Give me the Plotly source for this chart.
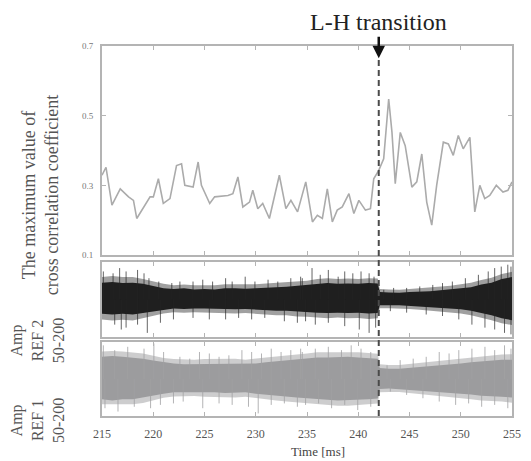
import plotly.graph_objects as go

# ---------------- data ----------------
# top panel: maximum value of cross correlation coefficient
cc_time = [215.0,215.39,215.97,216.78,217.59,218.07,218.39,219.2,219.69,220.01,220.5,220.98,221.63,222.27,222.76,
           223.08,223.89,224.38,224.7,225.51,225.99,227.29,227.77,228.26,228.74,229.39,229.71,230.2,230.68,231.33,
           232.3,232.94,233.43,234.08,234.88,235.53,236.01,236.5,236.98,237.47,237.95,238.44,239.09,239.57,240.06,
           240.7,241.19,241.51,242.0,242.48,242.97,243.29,243.61,244.1,244.58,245.23,245.71,246.2,246.68,247.17,
           247.65,248.3,248.79,249.27,249.76,250.24,250.89,251.37,251.86,252.34,252.83,253.47,254.12,254.6,255.0]
cc_value = [0.329,0.352,0.243,0.29,0.267,0.257,0.205,0.243,0.267,0.267,0.319,0.248,0.262,0.357,0.362,
            0.30,0.295,0.367,0.30,0.248,0.267,0.271,0.276,0.324,0.238,0.252,0.286,0.233,0.248,0.205,
            0.329,0.233,0.257,0.224,0.31,0.195,0.214,0.205,0.29,0.195,0.229,0.238,0.276,0.219,0.257,
            0.229,0.233,0.319,0.343,0.376,0.548,0.452,0.305,0.452,0.414,0.295,0.31,0.39,0.252,0.186,
            0.30,0.424,0.419,0.386,0.443,0.405,0.438,0.224,0.30,0.262,0.271,0.30,0.281,0.286,0.31]

# envelopes of the dense band-passed (50-200) signals
env_time = [215,216,217,218,219,220,221,222,223,224,225,226,227,228,229,230,231,232,233,234,235,236,237,238,
            239,240,241,241.9,242.1,243,244,245,246,247,248,249,250,251,252,253,254,255]

ref2_core_hi = [0.45,0.47,0.44,0.45,0.42,0.36,0.3,0.28,0.3,0.27,0.28,0.27,0.3,0.3,0.29,0.3,0.32,0.33,0.34,0.36,
                0.38,0.42,0.44,0.42,0.43,0.42,0.44,0.43,0.2,0.19,0.18,0.2,0.21,0.22,0.25,0.28,0.3,0.33,0.4,0.45,0.55,0.6]
ref2_core_lo = [-0.38,-0.4,-0.38,-0.4,-0.36,-0.32,-0.27,-0.24,-0.25,-0.24,-0.24,-0.23,-0.25,-0.26,-0.25,-0.27,
                -0.28,-0.3,-0.3,-0.32,-0.33,-0.35,-0.36,-0.35,-0.36,-0.35,-0.37,-0.36,-0.15,-0.15,-0.15,-0.17,
                -0.18,-0.2,-0.22,-0.24,-0.26,-0.3,-0.35,-0.42,-0.5,-0.55]
ref2_outer_hi = [0.6,0.63,0.6,0.6,0.55,0.48,0.42,0.38,0.4,0.38,0.38,0.38,0.41,0.41,0.4,0.41,0.43,0.45,0.46,0.48,
                 0.5,0.55,0.57,0.55,0.56,0.55,0.57,0.56,0.28,0.27,0.26,0.28,0.3,0.31,0.34,0.37,0.41,0.45,0.52,0.58,0.68,0.74]
ref2_outer_lo = [-0.53,-0.56,-0.54,-0.56,-0.5,-0.44,-0.37,-0.34,-0.35,-0.34,-0.34,-0.34,-0.36,-0.37,-0.36,-0.38,
                 -0.4,-0.42,-0.42,-0.45,-0.46,-0.49,-0.5,-0.48,-0.5,-0.49,-0.52,-0.5,-0.23,-0.23,-0.23,-0.25,
                 -0.27,-0.29,-0.32,-0.34,-0.37,-0.42,-0.48,-0.55,-0.63,-0.68]
ref2_up_t = [215.13,216.08,216.72,217.35,218.47,219.1,219.58,220.54,221.81,222.6,223.88,224.83,225.79,227.06,
             227.7,228.97,229.92,231.2,232.15,233.42,234.38,234.54,235.49,236.29,237.08,238.04,238.68,239.47,
             240.27,241.06,241.54,242.49,243.45,244.72,246.0,247.27,248.22,249.18,250.45,251.72,252.68,253.31,
             253.95,254.59,254.9]
ref2_up_a = [0.75,0.70,0.84,0.75,0.79,0.70,0.57,0.48,0.44,0.48,0.48,0.53,0.48,0.57,0.48,0.61,0.48,0.53,0.48,
             0.57,0.61,0.57,0.84,0.66,0.79,0.61,0.75,0.70,0.75,0.70,0.61,0.26,0.31,0.31,0.35,0.39,0.44,0.48,
             0.57,0.66,0.75,0.84,0.88,0.93,0.88]
ref2_dn_t = [216.24,216.88,217.35,218.47,219.42,220.7,221.97,223.88,225.47,227.06,228.33,229.6,230.88,232.79,
             234.06,234.86,235.81,237.08,238.68,240.1,241.06,241.7,243.13,244.72,246.63,248.22,249.81,251.09,
             252.36,253.31,254.27,254.9]
ref2_dn_a = [-0.67,-0.80,-0.75,-0.67,-0.89,-0.62,-0.53,-0.49,-0.53,-0.53,-0.49,-0.53,-0.49,-0.58,-0.62,-0.58,
             -0.67,-0.62,-0.71,-0.80,-0.89,-0.75,-0.31,-0.35,-0.40,-0.44,-0.53,-0.67,-0.75,-0.80,-0.89,-0.93]

ref1_core_hi = [0.6,0.62,0.6,0.58,0.55,0.5,0.45,0.42,0.4,0.4,0.42,0.42,0.42,0.42,0.4,0.42,0.45,0.48,0.5,0.52,
                0.55,0.58,0.58,0.6,0.6,0.58,0.56,0.55,0.3,0.28,0.28,0.3,0.32,0.35,0.38,0.4,0.42,0.45,0.48,0.5,0.52,0.52]
ref1_core_lo = [-0.55,-0.58,-0.55,-0.55,-0.52,-0.45,-0.4,-0.36,-0.35,-0.35,-0.36,-0.36,-0.38,-0.38,-0.36,-0.4,
                -0.42,-0.45,-0.48,-0.5,-0.52,-0.55,-0.56,-0.58,-0.58,-0.56,-0.55,-0.53,-0.27,-0.26,-0.26,-0.28,
                -0.3,-0.32,-0.35,-0.38,-0.4,-0.42,-0.45,-0.47,-0.48,-0.5]
ref1_outer_hi = [0.74,0.76,0.74,0.72,0.69,0.63,0.57,0.54,0.52,0.52,0.54,0.54,0.54,0.55,0.52,0.54,0.58,0.61,0.63,
                 0.66,0.69,0.72,0.72,0.74,0.74,0.72,0.7,0.68,0.4,0.38,0.38,0.41,0.44,0.47,0.5,0.53,0.55,0.59,
                 0.62,0.64,0.66,0.67]
ref1_outer_lo = [-0.68,-0.7,-0.68,-0.68,-0.65,-0.57,-0.51,-0.47,-0.46,-0.46,-0.48,-0.48,-0.5,-0.5,-0.48,-0.52,
                 -0.55,-0.58,-0.61,-0.64,-0.66,-0.69,-0.7,-0.72,-0.72,-0.7,-0.68,-0.66,-0.36,-0.35,-0.35,-0.37,
                 -0.4,-0.43,-0.46,-0.49,-0.52,-0.55,-0.58,-0.6,-0.61,-0.64]
ref1_up_t = [215.13,216.24,217.51,219.1,220.06,221.01,222.6,223.56,224.51,225.47,226.42,227.38,228.65,229.6,
             230.56,231.51,232.47,233.42,234.38,234.54,235.81,237.08,238.36,239.31,240.27,241.22,242.81,244.09,
             245.36,246.63,247.9,248.86,249.81,251.09,252.36,253.31,254.27,254.9]
ref1_up_a = [0.91,0.78,0.87,0.82,0.96,0.73,0.60,0.55,0.73,0.69,0.60,0.64,0.78,0.73,0.69,0.82,0.73,0.78,0.82,
             0.73,0.82,0.87,0.78,0.91,0.82,0.73,0.37,0.51,0.55,0.60,0.73,0.69,0.78,0.82,0.87,0.78,0.91,0.82]
ref1_dn_t = [215.29,216.56,218.15,219.74,220.7,221.97,222.92,224.83,226.42,227.7,229.29,230.24,231.51,232.79,
             234.06,234.86,236.13,237.4,238.68,239.95,241.22,243.13,244.72,246.31,247.9,249.5,250.77,252.04,
             253.31,254.59]
ref1_dn_a = [-0.79,-0.88,-0.75,-0.79,-0.70,-0.66,-0.61,-0.79,-0.66,-0.70,-0.75,-0.93,-0.70,-0.66,-0.75,-0.70,
             -0.66,-0.79,-0.70,-0.84,-0.75,-0.34,-0.43,-0.52,-0.61,-0.70,-0.66,-0.75,-0.70,-0.79]

x_ticks = [215, 220, 225, 230, 235, 240, 245, 250, 255]
y_ticks = [0.1, 0.3, 0.5, 0.7]
transition_time = 242

# ---------------- figure ----------------
SERIF = "Liberation Serif, Times New Roman, serif"
FRAME = "#b4b4b4"

fig = go.Figure()

fig.add_trace(go.Scatter(x=cc_time, y=cc_value, mode="lines",
                         line=dict(color="#ababab", width=1.6), xaxis="x", yaxis="y", hoverinfo="skip"))


def band(hi, lo, color, ax, ay):
    return go.Scatter(x=env_time + env_time[::-1], y=hi + lo[::-1], mode="lines", fill="toself",
                      fillcolor=color, line=dict(width=0, color=color), xaxis=ax, yaxis=ay, hoverinfo="skip")


def spikes(ts, amps, color, ax, ay, width=1.0):
    xs, ys = [], []
    for t, a in zip(ts, amps):
        xs += [t, t, None]
        ys += [0, a, None]
    return go.Scatter(x=xs, y=ys, mode="lines", line=dict(color=color, width=width),
                      xaxis=ax, yaxis=ay, hoverinfo="skip")


# REF 2 (middle, dark)
fig.add_trace(band(ref2_outer_hi, ref2_outer_lo, "rgba(45,45,45,0.45)", "x2", "y2"))
fig.add_trace(band(ref2_core_hi, ref2_core_lo, "#1f1f1f", "x2", "y2"))
fig.add_trace(spikes(ref2_up_t, ref2_up_a, "rgba(35,35,35,0.7)", "x2", "y2"))
fig.add_trace(spikes(ref2_dn_t, ref2_dn_a, "rgba(35,35,35,0.7)", "x2", "y2"))
# REF 1 (bottom, grey)
fig.add_trace(band(ref1_outer_hi, ref1_outer_lo, "rgba(155,155,158,0.5)", "x3", "y3"))
fig.add_trace(band(ref1_core_hi, ref1_core_lo, "#9c9c9e", "x3", "y3"))
fig.add_trace(spikes(ref1_up_t, ref1_up_a, "rgba(160,160,162,0.8)", "x3", "y3"))
fig.add_trace(spikes(ref1_dn_t, ref1_dn_a, "rgba(160,160,162,0.8)", "x3", "y3"))

axis_common = dict(range=[215, 255], showline=True, mirror="ticks", linecolor=FRAME, linewidth=2,
                   ticks="inside", ticklen=4, tickcolor=FRAME, tickwidth=1, tickvals=x_ticks,
                   showgrid=False, zeroline=False)

fig.update_layout(
    width=531, height=461,
    margin=dict(l=102, r=10, t=46, b=45),
    paper_bgcolor="white", plot_bgcolor="white",
    showlegend=False,
    font=dict(family=SERIF, color="#555"),
    xaxis=dict(**axis_common, anchor="y", showticklabels=False),
    xaxis2=dict(**axis_common, anchor="y2", showticklabels=False, matches="x"),
    xaxis3=dict(**axis_common, anchor="y3", showticklabels=True, matches="x",
                ticktext=[str(v) for v in x_ticks],
                tickfont=dict(family=SERIF, size=12, color="#555"), ticklabelstandoff=6),
    yaxis=dict(domain=[0.435, 1.0], range=[0.1, 0.7], tickvals=y_ticks,
               ticktext=["%.1f" % v for v in y_ticks],
               showline=True, mirror="ticks", linecolor=FRAME, linewidth=2,
               ticks="inside", ticklen=4, tickcolor=FRAME, showgrid=False, zeroline=False,
               tickfont=dict(family=SERIF, size=9, color="#777"), ticklabelstandoff=5),
    yaxis2=dict(domain=[0.2135, 0.416], range=[-1, 1], showticklabels=False,
                showline=True, mirror=True, linecolor=FRAME, linewidth=2, ticks="",
                showgrid=False, zeroline=False),
    yaxis3=dict(domain=[0.0, 0.2], range=[-1, 1], showticklabels=False,
                showline=True, mirror=True, linecolor=FRAME, linewidth=2, ticks="",
                showgrid=False, zeroline=False),
)

# dashed transition line through all panels
fig.add_shape(type="line", xref="x", yref="paper", x0=transition_time, x1=transition_time,
              y0=0, y1=0.967, line=dict(color="#4a4a4a", width=2, dash="6px,4px"), layer="above")

annotations = [
    dict(x=transition_time, y=0.665, xref="x", yref="y", text="L-H transition", showarrow=True,
         ax=0, ay=-36, arrowhead=2, arrowsize=1, arrowwidth=2.5, arrowcolor="#111",
         font=dict(family=SERIF, size=24, color="#222")),
    dict(x=-0.150, y=0.598, xref="paper", yref="paper", text="The maximum value of<br>cross correlation coefficient",
         textangle=-90, showarrow=False, font=dict(family=SERIF, size=18, color="#555"),
         xanchor="center", yanchor="middle"),
    dict(x=-0.157, y=0.204, xref="paper", yref="paper", text="Amp<br>REF 2<br>50-200",
         textangle=-90, showarrow=False, font=dict(family=SERIF, size=16, color="#555"),
         xanchor="center", yanchor="middle"),
    dict(x=-0.157, y=-0.012, xref="paper", yref="paper", text="Amp<br>REF 1<br>50-200",
         textangle=-90, showarrow=False, font=dict(family=SERIF, size=16, color="#555"),
         xanchor="center", yanchor="middle"),
    dict(x=0.527, y=-0.097, xref="paper", yref="paper", text="Time [ms]", showarrow=False,
         font=dict(family=SERIF, size=13, color="#444"), xanchor="center", yanchor="middle"),
]
fig.update_layout(annotations=annotations)

fig.write_html("out.html")
